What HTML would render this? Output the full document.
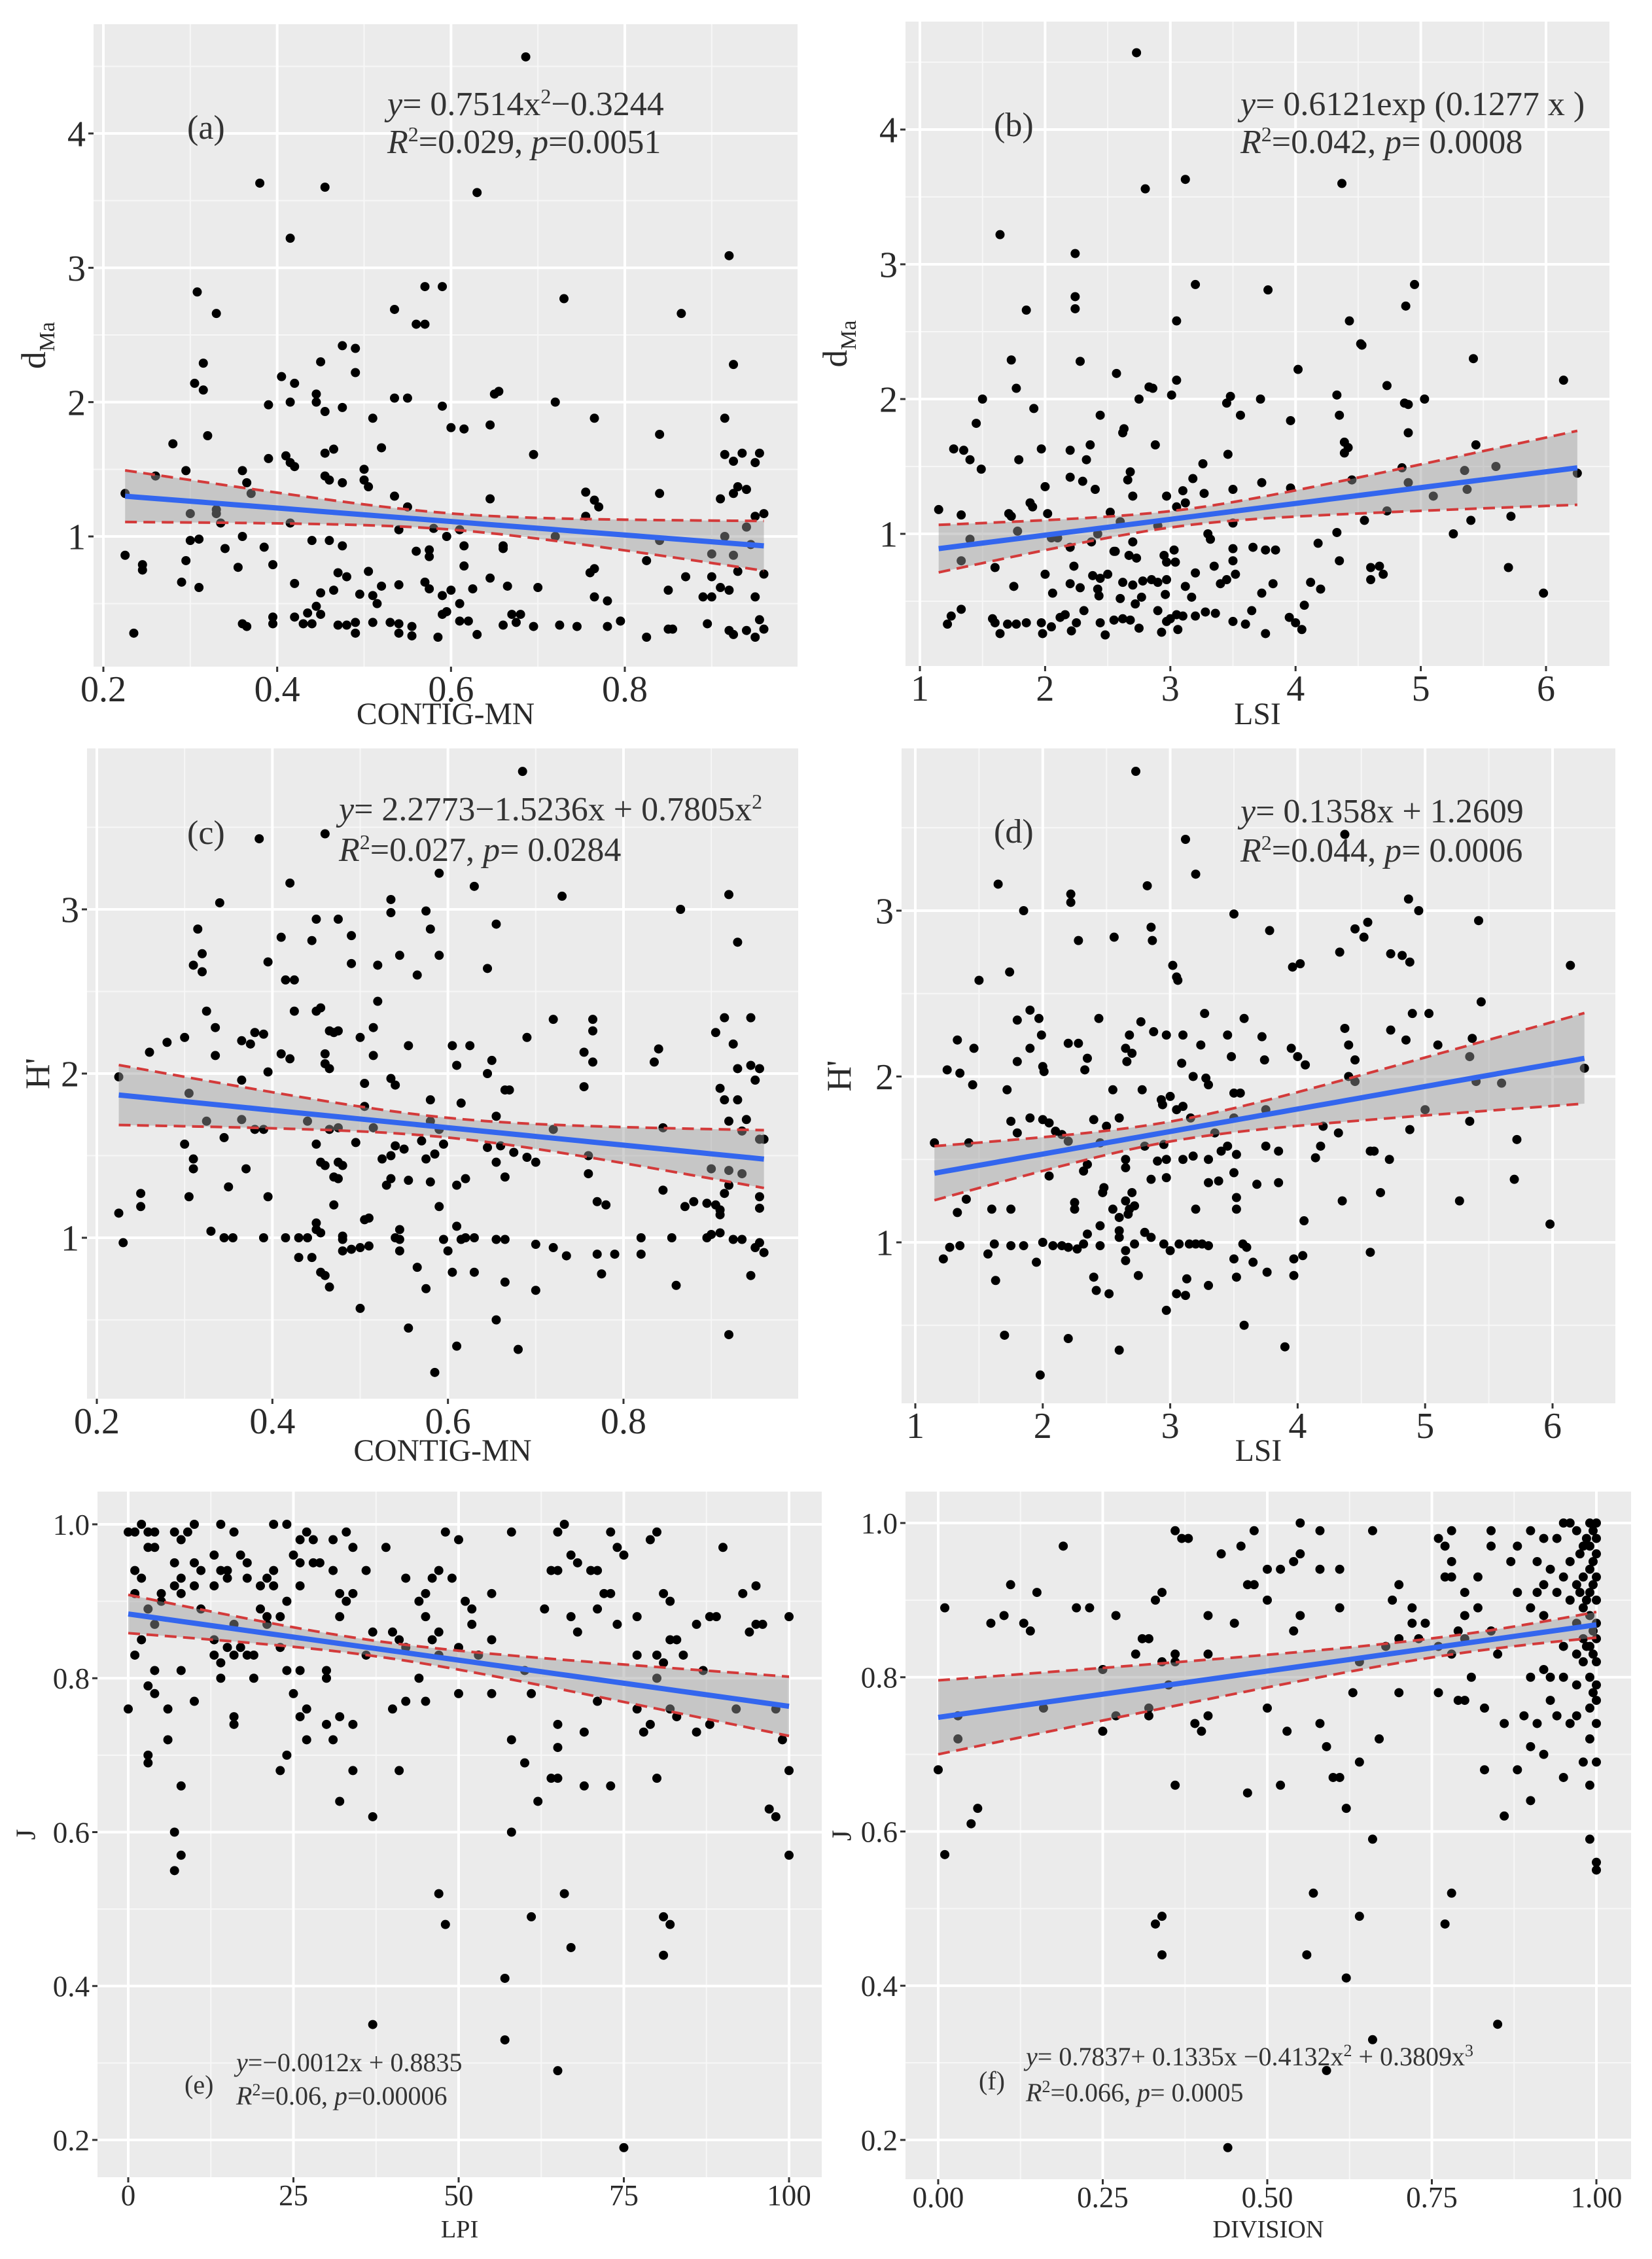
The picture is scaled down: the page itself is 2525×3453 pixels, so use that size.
<!DOCTYPE html>
<html><head><meta charset="utf-8"><style>
html,body{margin:0;padding:0;background:#fff}
svg{display:block}
svg text{font-family:"Liberation Serif","DejaVu Serif",serif}
</style></head><body>
<svg id="fig" xmlns="http://www.w3.org/2000/svg" width="2525" height="3453" viewBox="0 0 2525 3453" font-family="Liberation Serif, DejaVu Serif, serif"></svg>
<script>
// ===== Panel (a): CONTIG-MN vs dMa =====
const aX=[0.686,0.38,0.455,0.63,0.415,0.92,0.308,0.33,0.57,0.59,0.73,0.865,0.535,0.56,0.57,0.475,0.49,0.45,0.315,0.925,0.49,0.405,0.305,0.42,0.315,0.445,0.655,0.65,0.535,0.55,0.39,0.415,0.445,0.59,0.72,0.455,0.475,0.51,0.765,0.915,0.6,0.615,0.645,0.32,0.84,0.28,0.52,0.39,0.41,0.455,0.465,0.695,0.915,0.935,0.955,0.925,0.95,0.415,0.42,0.5,0.455,0.46,0.26,0.295,0.36,0.5,0.365,0.475,0.505,0.93,0.94,0.755,0.84,0.925,0.91,0.645,0.765,0.535,0.225,0.37,0.33,0.77,0.33,0.3,0.55,0.755,0.95,0.96,0.335,0.415,0.54,0.58,0.61,0.94,0.31,0.3,0.36,0.44,0.46,0.595,0.615,0.66,0.72,0.84,0.915,0.385,0.34,0.475,0.56,0.575,0.575,0.225,0.295,0.395,0.66,0.825,0.9,0.925,0.945,0.245,0.245,0.355,0.505,0.615,0.765,0.76,0.47,0.48,0.93,0.96,0.87,0.9,0.29,0.31,0.42,0.52,0.54,0.575,0.57,0.6,0.625,0.645,0.665,0.7,0.85,0.91,0.92,0.45,0.465,0.495,0.51,0.515,0.59,0.61,0.765,0.78,0.89,0.9,0.95,0.445,0.435,0.42,0.395,0.45,0.59,0.595,0.67,0.68,0.36,0.365,0.395,0.43,0.44,0.47,0.48,0.49,0.51,0.53,0.54,0.555,0.61,0.62,0.66,0.675,0.695,0.725,0.745,0.78,0.795,0.85,0.855,0.895,0.92,0.94,0.955,0.96,0.235,0.49,0.54,0.555,0.585,0.63,0.825,0.925,0.95];
const aY=[4.57,3.63,3.6,3.56,3.22,3.09,2.82,2.66,2.86,2.86,2.77,2.66,2.69,2.58,2.58,2.42,2.4,2.3,2.29,2.28,2.22,2.19,2.14,2.14,2.09,2.06,2.08,2.06,2.03,2.03,1.98,2.0,2.0,1.97,2.0,1.93,1.96,1.88,1.88,1.88,1.81,1.8,1.83,1.75,1.76,1.69,1.66,1.58,1.6,1.62,1.65,1.61,1.61,1.62,1.62,1.56,1.55,1.55,1.52,1.5,1.45,1.42,1.45,1.49,1.49,1.42,1.4,1.4,1.37,1.37,1.35,1.33,1.32,1.32,1.28,1.28,1.27,1.3,1.32,1.32,1.2,1.22,1.17,1.17,1.22,1.15,1.15,1.17,1.1,1.1,1.05,1.06,1.05,1.07,0.98,0.97,1.0,0.97,0.97,1.0,0.93,0.93,1.0,0.97,1.0,0.92,0.91,0.93,0.89,0.9,0.85,0.86,0.82,0.79,0.91,0.82,0.87,0.86,0.94,0.79,0.75,0.77,0.74,0.78,0.76,0.73,0.73,0.7,0.74,0.72,0.7,0.7,0.66,0.62,0.65,0.63,0.64,0.61,0.66,0.6,0.61,0.69,0.63,0.62,0.6,0.62,0.6,0.58,0.6,0.57,0.56,0.5,0.56,0.5,0.55,0.52,0.55,0.55,0.55,0.48,0.43,0.4,0.4,0.42,0.42,0.44,0.42,0.42,0.35,0.33,0.35,0.35,0.35,0.34,0.34,0.36,0.36,0.36,0.35,0.33,0.37,0.37,0.34,0.36,0.33,0.34,0.33,0.33,0.37,0.31,0.31,0.35,0.3,0.3,0.38,0.31,0.28,0.28,0.28,0.26,0.25,0.27,0.25,0.27,0.25];
const aFit=[1.413,-0.503,0.06,0.487,0.6];

// ===== Panel (b): LSI vs dMa =====
const bX=[2.73,3.12,2.8,4.37,1.64,2.24,2.24,2.24,3.2,3.78,4.95,4.88,1.85,3.05,4.43,4.52,4.53,1.73,2.28,5.42,2.57,3.05,4.02,6.14,1.77,2.83,2.86,3.01,4.73,1.5,2.75,3.48,3.72,4.33,5.03,4.87,4.9,3.45,1.91,2.44,3.56,4.35,3.96,1.45,2.63,2.62,4.9,4.39,4.42,4.39,1.27,1.35,1.97,2.2,2.36,2.88,5.44,1.4,1.79,2.33,3.46,1.49,2.68,3.26,5.6,4.85,5.35,2.2,2.66,2.3,3.18,3.73,4.45,4.9,2.0,2.4,2.7,2.97,3.1,3.5,3.96,5.1,5.37,3.27,1.88,1.9,2.02,1.15,1.71,1.73,1.33,2.52,3.05,3.12,2.6,2.9,3.5,4.55,4.73,5.4,5.72,6.25,1.78,2.05,2.1,2.37,2.42,3.3,3.32,4.33,5.26,1.4,2.2,2.55,2.56,2.7,2.95,3.03,3.5,3.66,3.76,3.84,4.18,1.33,2.67,2.73,2.23,2.97,3.04,3.35,3.5,4.35,4.6,4.67,5.7,1.6,2.0,2.38,2.44,2.5,2.62,2.7,2.78,2.85,2.9,2.97,3.12,3.2,3.4,3.45,3.52,3.82,4.12,4.6,4.7,1.75,2.2,2.28,2.42,2.43,2.06,2.6,2.72,2.77,2.96,3.17,3.73,4.2,5.98,1.25,1.33,1.22,1.58,1.6,1.7,1.77,1.85,1.97,2.05,2.12,2.16,2.25,2.31,2.44,2.55,2.62,2.68,2.75,2.9,2.97,3.0,3.05,3.1,3.2,3.28,3.36,3.5,3.6,3.65,3.95,4.0,4.05,4.07,1.64,1.98,2.21,2.48,2.93,3.06,3.76];
const bY=[4.57,3.63,3.56,3.6,3.22,3.08,2.76,2.67,2.85,2.81,2.85,2.69,2.66,2.58,2.58,2.41,2.4,2.29,2.28,2.3,2.19,2.14,2.22,2.14,2.08,2.09,2.08,2.03,2.1,2.0,2.0,2.02,2.0,2.03,2.0,1.97,1.96,1.97,1.93,1.88,1.88,1.88,1.84,1.82,1.78,1.75,1.75,1.68,1.64,1.6,1.63,1.62,1.63,1.62,1.66,1.66,1.66,1.55,1.55,1.55,1.59,1.48,1.46,1.52,1.5,1.49,1.47,1.42,1.4,1.39,1.41,1.38,1.4,1.38,1.35,1.33,1.28,1.28,1.32,1.33,1.34,1.28,1.33,1.3,1.23,1.2,1.15,1.18,1.15,1.13,1.14,1.16,1.2,1.23,1.09,1.06,1.08,1.1,1.17,1.1,1.13,1.45,1.02,0.97,0.97,0.94,1.0,1.0,0.96,1.01,1.0,0.96,0.9,0.87,0.87,0.94,0.84,0.88,0.89,0.9,0.88,0.88,0.93,0.8,0.84,0.82,0.76,0.79,0.79,0.76,0.8,0.8,0.75,0.76,0.75,0.75,0.7,0.69,0.67,0.7,0.64,0.62,0.65,0.66,0.64,0.66,0.61,0.71,0.63,0.66,0.7,0.63,0.64,0.66,0.7,0.61,0.63,0.6,0.59,0.54,0.56,0.52,0.48,0.53,0.55,0.53,0.56,0.59,0.56,0.39,0.44,0.33,0.37,0.34,0.33,0.33,0.34,0.34,0.31,0.38,0.4,0.34,0.43,0.34,0.36,0.37,0.36,0.3,0.43,0.35,0.37,0.4,0.39,0.39,0.42,0.41,0.35,0.33,0.43,0.38,0.34,0.29,0.47,0.26,0.26,0.28,0.25,0.27,0.29,0.26];
const bFit=[0.755,0.1176,0.06,0.085,3.1];

// ===== Panel (c): CONTIG-MN vs H' =====
const cX=[0.685,0.385,0.46,0.59,0.42,0.63,0.34,0.535,0.73,0.92,0.865,0.535,0.575,0.45,0.475,0.315,0.58,0.655,0.41,0.445,0.49,0.93,0.32,0.545,0.59,0.395,0.49,0.52,0.31,0.32,0.645,0.565,0.415,0.425,0.52,0.325,0.425,0.45,0.455,0.915,0.945,0.72,0.765,0.515,0.335,0.465,0.47,0.475,0.38,0.39,0.765,0.905,0.3,0.28,0.365,0.375,0.5,0.69,0.555,0.605,0.625,0.925,0.26,0.335,0.41,0.42,0.46,0.46,0.515,0.755,0.84,0.835,0.765,0.65,0.61,0.945,0.955,0.93,0.395,0.465,0.645,0.225,0.365,0.535,0.54,0.505,0.665,0.67,0.755,0.91,0.95,0.915,0.93,0.58,0.615,0.305,0.505,0.44,0.325,0.365,0.38,0.39,0.465,0.475,0.515,0.58,0.59,0.655,0.72,0.845,0.92,0.94,0.935,0.3,0.345,0.45,0.495,0.525,0.535,0.54,0.55,0.57,0.575,0.585,0.595,0.645,0.66,0.675,0.69,0.7,0.76,0.955,0.96,0.31,0.31,0.37,0.455,0.46,0.475,0.48,0.655,0.76,0.92,0.935,0.9,0.47,0.475,0.53,0.535,0.555,0.58,0.61,0.62,0.665,0.35,0.92,0.915,0.845,0.25,0.25,0.305,0.395,0.47,0.59,0.77,0.78,0.88,0.895,0.905,0.87,0.91,0.91,0.955,0.955,0.225,0.51,0.505,0.45,0.45,0.545,0.61,0.23,0.33,0.345,0.355,0.39,0.415,0.43,0.44,0.455,0.48,0.48,0.54,0.545,0.595,0.615,0.62,0.63,0.655,0.665,0.7,0.72,0.735,0.77,0.79,0.82,0.82,0.855,0.895,0.9,0.91,0.925,0.935,0.95,0.96,0.955,0.43,0.445,0.48,0.49,0.5,0.51,0.545,0.455,0.46,0.465,0.565,0.6,0.605,0.63,0.665,0.7,0.775,0.86,0.945,0.5,0.555,0.575,0.655,0.61,0.68,0.92,0.585];
const cY=[3.84,3.43,3.46,3.22,3.16,3.14,3.04,3.06,3.08,3.09,3.0,2.98,2.99,2.94,2.94,2.88,2.88,2.91,2.83,2.81,2.84,2.8,2.73,2.72,2.72,2.68,2.67,2.66,2.66,2.62,2.64,2.6,2.57,2.57,2.44,2.38,2.38,2.38,2.4,2.34,2.34,2.33,2.33,2.28,2.28,2.26,2.25,2.26,2.25,2.24,2.26,2.25,2.22,2.19,2.2,2.18,2.22,2.22,2.17,2.17,2.17,2.18,2.13,2.11,2.12,2.09,2.12,2.06,2.11,2.13,2.15,2.07,2.07,2.08,2.05,2.05,2.03,2.03,2.01,2.03,2.0,1.98,1.96,1.97,1.93,1.94,1.9,1.9,1.92,1.91,1.96,1.84,1.84,1.84,1.82,1.88,1.8,1.71,1.71,1.72,1.66,1.66,1.66,1.67,1.67,1.71,1.66,1.74,1.66,1.67,1.71,1.72,1.65,1.57,1.61,1.57,1.58,1.48,1.5,1.56,1.54,1.59,1.48,1.51,1.57,1.55,1.56,1.52,1.49,1.46,1.5,1.6,1.6,1.48,1.42,1.42,1.46,1.44,1.46,1.44,1.46,1.39,1.41,1.39,1.42,1.37,1.36,1.32,1.36,1.35,1.34,1.32,1.36,1.37,1.31,1.32,1.27,1.29,1.27,1.19,1.25,1.25,1.2,1.19,1.22,1.2,1.22,1.21,1.2,1.19,1.17,1.14,1.25,1.18,1.15,1.12,1.11,1.09,1.05,1.05,1.07,0.97,1.04,1.0,1.0,1.0,1.0,1.0,1.0,1.03,1.01,0.99,1.0,0.99,0.99,0.99,1.0,1.0,0.99,0.99,0.96,0.94,0.89,0.9,0.9,1.0,0.9,1.0,1.0,1.02,1.03,0.99,0.99,0.94,0.91,0.97,0.88,0.88,0.92,0.93,0.94,0.95,0.92,0.79,0.77,0.7,0.82,0.92,0.79,0.79,0.73,0.68,0.78,0.71,0.77,0.57,0.45,0.69,0.5,0.34,0.32,0.41,0.18];
const cFit=[1.989,-0.531,0.06,0.46,0.6];

// ===== Panel (d): LSI vs H' =====
const dX=[2.73,3.12,4.37,3.2,1.65,2.82,2.22,2.22,1.85,3.5,4.87,4.95,5.42,2.85,3.78,4.45,4.52,4.55,2.56,2.28,2.86,4.33,4.73,4.82,4.88,3.02,3.05,3.06,3.96,4.02,6.14,1.74,1.5,5.44,1.9,1.97,1.8,2.44,2.77,3.27,3.58,4.9,5.03,4.37,4.73,2.68,2.87,2.97,3.1,3.45,3.72,1.33,1.99,2.2,2.28,2.65,2.7,3.24,3.95,4.4,4.85,5.1,5.37,1.46,1.9,2.35,3.48,3.74,4.0,5.35,1.8,2.0,2.01,2.66,3.09,4.06,4.45,1.25,1.35,2.33,3.18,3.28,3.3,4.4,4.45,1.45,2.55,1.72,2.78,3.5,3.55,5.4,5.6,6.25,2.93,2.94,3.0,3.05,3.1,3.75,5.0,1.75,1.9,2.0,2.05,2.4,2.6,3.16,3.5,4.2,4.88,5.35,1.8,2.1,2.15,2.5,3.35,4.32,1.15,1.42,2.2,2.45,2.8,2.95,3.45,3.75,4.18,4.57,4.6,5.72,2.65,2.9,2.97,3.1,3.18,3.3,3.4,3.52,3.85,4.14,4.72,2.32,2.35,2.65,3.5,2.05,2.85,2.97,3.3,3.38,3.68,3.85,5.7,2.47,2.48,2.65,2.7,4.65,1.4,2.25,2.25,2.55,2.68,2.72,3.2,3.52,3.52,4.35,5.27,1.33,1.6,1.75,2.6,2.67,2.45,2.6,4.05,5.98,2.35,2.6,2.8,2.85,1.22,1.27,1.35,1.57,1.62,1.75,1.85,2.0,2.08,2.15,2.2,2.27,2.32,2.45,2.65,2.72,2.95,3.0,3.07,3.15,3.2,3.25,3.3,3.5,3.57,3.6,3.65,3.97,4.04,4.57,1.95,2.65,2.75,2.4,3.13,3.3,3.52,3.76,3.97,1.63,2.42,2.52,3.05,3.12,2.97,1.7,2.2,2.6,3.58,3.9,1.98];
const dY=[3.84,3.43,3.46,3.22,3.16,3.15,3.1,3.05,3.0,2.98,3.07,3.0,2.94,2.9,2.88,2.89,2.84,2.93,2.84,2.82,2.82,2.75,2.74,2.73,2.69,2.67,2.6,2.58,2.66,2.68,2.67,2.63,2.58,2.45,2.4,2.35,2.34,2.35,2.33,2.38,2.35,2.38,2.38,2.29,2.28,2.25,2.27,2.25,2.25,2.25,2.24,2.22,2.25,2.2,2.2,2.17,2.14,2.19,2.17,2.19,2.22,2.19,2.23,2.17,2.17,2.11,2.12,2.1,2.12,2.12,2.09,2.06,2.03,2.09,2.08,2.07,2.1,2.04,2.02,2.04,2.0,1.99,1.95,2.0,1.97,1.95,1.92,1.92,1.92,1.9,1.9,1.97,1.96,2.05,1.86,1.83,1.88,1.8,1.82,1.8,1.8,1.73,1.75,1.74,1.72,1.74,1.75,1.75,1.75,1.7,1.68,1.73,1.66,1.67,1.65,1.7,1.66,1.66,1.6,1.6,1.61,1.6,1.58,1.59,1.58,1.58,1.58,1.55,1.55,1.62,1.5,1.49,1.5,1.5,1.52,1.5,1.55,1.53,1.55,1.51,1.5,1.43,1.47,1.45,1.42,1.4,1.38,1.39,1.36,1.37,1.35,1.36,1.38,1.3,1.33,1.25,1.3,1.3,1.26,1.24,1.2,1.2,1.2,1.22,1.2,1.2,1.27,1.25,1.25,1.18,1.2,1.2,1.15,1.17,1.1,1.07,1.13,1.11,1.05,1.03,1.06,1.03,0.9,0.97,0.98,0.93,0.99,0.98,0.98,1.0,0.98,0.98,0.97,0.96,0.99,0.98,0.95,0.99,0.99,0.95,0.99,0.99,0.99,0.99,0.98,0.9,0.99,0.97,0.88,0.9,0.92,0.94,0.88,0.89,0.8,0.79,0.78,0.74,0.79,0.82,0.8,0.77,0.71,0.69,0.69,0.68,0.59,0.44,0.42,0.35,0.5,0.37,0.2];
const dFit=[1.2609,0.1358,0.06,0.082,3.0];

// ===== Panel (e): LPI vs J =====
const eX=[0,1,2,3,4,7,8,9,10,14,16,22,24,26,27,28,31,33,34,39,48,50,58,65,66,73,74,79,80,1,2,3,4,7,8,10,11,13,14,15,17,18,21,22,25,26,28,29,31,36,42,46,47,49,64,65,67,68,70,71,75,90,1,5,7,8,10,13,15,18,20,22,24,26,32,33,34,44,45,51,52,55,63,72,73,81,82,93,95,3,5,11,20,21,23,32,45,52,67,68,71,74,77,86,88,89,94,95,96,100,2,4,13,15,16,17,18,21,23,37,40,41,42,46,47,50,53,55,82,83,84,1,4,8,13,14,16,19,24,26,30,36,44,47,60,77,80,81,87,3,4,14,19,30,50,55,61,80,0,6,10,16,16,25,26,27,30,32,34,40,42,45,65,71,77,78,79,82,83,86,88,92,98,6,27,31,58,65,69,99,3,3,24,23,34,41,60,64,65,100,8,69,73,80,32,62,97,37,98,7,58,8,7,100,47,66,48,61,81,82,67,81,57,37,57,65,75];
const eY=[0.99,0.99,1.0,0.99,0.99,0.99,0.98,0.99,1.0,1.0,0.99,1.0,1.0,0.98,0.99,0.98,0.98,0.99,0.97,0.97,0.99,0.98,0.99,0.99,1.0,0.99,0.97,0.98,0.99,0.94,0.93,0.97,0.97,0.95,0.93,0.95,0.94,0.96,0.94,0.94,0.96,0.95,0.93,0.94,0.96,0.95,0.95,0.95,0.94,0.94,0.93,0.93,0.94,0.93,0.94,0.94,0.96,0.95,0.94,0.94,0.96,0.97,0.91,0.9,0.92,0.91,0.92,0.92,0.93,0.93,0.92,0.92,0.9,0.92,0.91,0.9,0.91,0.9,0.91,0.9,0.89,0.91,0.89,0.91,0.91,0.91,0.9,0.91,0.92,0.89,0.91,0.89,0.89,0.88,0.88,0.88,0.88,0.87,0.88,0.86,0.89,0.87,0.88,0.87,0.88,0.88,0.86,0.87,0.87,0.88,0.85,0.87,0.85,0.84,0.87,0.84,0.83,0.87,0.84,0.86,0.86,0.85,0.84,0.85,0.86,0.84,0.83,0.85,0.85,0.85,0.83,0.83,0.81,0.81,0.83,0.82,0.83,0.83,0.81,0.81,0.81,0.83,0.8,0.83,0.81,0.83,0.83,0.82,0.81,0.79,0.78,0.8,0.8,0.8,0.78,0.78,0.78,0.8,0.76,0.76,0.77,0.75,0.74,0.78,0.75,0.76,0.74,0.75,0.74,0.76,0.77,0.77,0.74,0.77,0.76,0.73,0.74,0.76,0.75,0.73,0.74,0.76,0.76,0.72,0.72,0.72,0.72,0.71,0.73,0.72,0.69,0.7,0.7,0.68,0.68,0.68,0.69,0.67,0.67,0.68,0.66,0.66,0.66,0.67,0.64,0.64,0.63,0.62,0.62,0.6,0.6,0.57,0.55,0.57,0.52,0.52,0.48,0.49,0.49,0.48,0.45,0.44,0.41,0.35,0.33,0.29,0.19];
const eFit=[0.8835,-0.0012,0.01,0.0006,38];

// ===== Panel (f): DIVISION vs J =====
const fX=[0.0,0.01,0.01,0.03,0.03,0.05,0.06,0.08,0.1,0.11,0.13,0.14,0.15,0.16,0.19,0.21,0.23,0.25,0.25,0.27,0.27,0.3,0.31,0.32,0.32,0.32,0.33,0.34,0.34,0.33,0.34,0.34,0.35,0.36,0.36,0.36,0.36,0.37,0.38,0.39,0.4,0.41,0.41,0.41,0.43,0.44,0.45,0.46,0.47,0.47,0.48,0.48,0.5,0.5,0.5,0.52,0.52,0.53,0.54,0.54,0.55,0.55,0.55,0.56,0.57,0.58,0.58,0.58,0.59,0.59,0.6,0.61,0.61,0.61,0.62,0.62,0.63,0.64,0.64,0.64,0.66,0.66,0.66,0.67,0.68,0.69,0.7,0.7,0.7,0.72,0.72,0.73,0.74,0.76,0.76,0.76,0.77,0.77,0.78,0.78,0.78,0.78,0.77,0.78,0.79,0.79,0.8,0.8,0.8,0.8,0.81,0.82,0.82,0.83,0.83,0.84,0.84,0.84,0.85,0.86,0.86,0.85,0.87,0.88,0.88,0.88,0.89,0.9,0.9,0.9,0.9,0.9,0.91,0.91,0.91,0.92,0.92,0.92,0.92,0.92,0.93,0.93,0.93,0.94,0.94,0.94,0.95,0.95,0.95,0.95,0.95,0.96,0.96,0.96,0.96,0.97,0.97,0.97,0.97,0.97,0.97,0.98,0.98,0.98,0.98,0.98,0.98,0.99,0.99,0.99,0.99,0.99,0.99,0.99,0.99,0.99,0.99,0.99,1.0,1.0,1.0,1.0,1.0,1.0,1.0,1.0,1.0,1.0,1.0,1.0,1.0,1.0,0.995,0.995,0.995,0.995,0.995,0.995,0.985,0.985,0.985,0.975,0.975];
const fY=[0.68,0.89,0.57,0.75,0.72,0.61,0.63,0.87,0.88,0.92,0.87,0.86,0.91,0.76,0.97,0.89,0.89,0.81,0.73,0.75,0.88,0.83,0.85,0.85,0.76,0.75,0.9,0.91,0.82,0.48,0.49,0.44,0.79,0.99,0.83,0.82,0.66,0.98,0.98,0.74,0.73,0.88,0.83,0.75,0.96,0.19,0.87,0.97,0.65,0.92,0.92,0.99,0.9,0.94,0.76,0.94,0.66,0.73,0.95,0.86,0.96,1.0,0.88,0.44,0.52,0.74,0.99,0.94,0.71,0.29,0.67,0.94,0.89,0.67,0.63,0.41,0.78,0.49,0.82,0.69,0.99,0.59,0.33,0.72,0.84,0.9,0.78,0.85,0.92,0.89,0.87,0.85,0.87,0.98,0.78,0.84,0.97,0.93,0.99,0.95,0.93,0.83,0.48,0.52,0.77,0.86,0.77,0.91,0.88,0.85,0.8,0.93,0.89,0.76,0.68,0.99,0.97,0.86,0.83,0.74,0.62,0.35,0.95,0.97,0.91,0.68,0.75,0.99,0.64,0.71,0.89,0.8,0.95,0.91,0.74,0.98,0.92,0.88,0.81,0.7,0.94,0.8,0.77,0.98,0.91,0.75,1.0,0.93,0.84,0.8,0.67,1.0,0.95,0.9,0.74,0.99,0.92,0.87,0.83,0.79,0.75,0.97,0.93,0.89,0.85,0.82,0.69,1.0,0.97,0.94,0.91,0.88,0.84,0.8,0.76,0.72,0.66,0.59,1.0,0.98,0.96,0.93,0.9,0.87,0.85,0.82,0.79,0.77,0.74,0.69,0.56,0.55,0.99,0.95,0.92,0.86,0.83,0.78,0.98,0.9,0.84,0.96,0.91];
const fFit=[0.748,0.12,0.012,0.058,0.8];

// ---- tick label arrays ----
const contigTicks=[0.2,0.4,0.6,0.8];
const contigLabels=["0.2","0.4","0.6","0.8"];
const lsiTicks=[1,2,3,4,5,6];
const lsiLabels=["1","2","3","4","5","6"];
const dmaTicks=[1,2,3,4];
const dmaLabels=["1","2","3","4"];
const hTicks=[1,2,3];
const hLabels=["1","2","3"];
const lpiTicks=[0,25,50,75,100];
const lpiLabels=["0","25","50","75","100"];
const divTicks=[0,0.25,0.5,0.75,1];
const divLabels=["0.00","0.25","0.50","0.75","1.00"];
const jTicks=[0.2,0.4,0.6,0.8,1.0];
const jLabels=["0.2","0.4","0.6","0.8","1.0"];

const NS="http://www.w3.org/2000/svg";
const svg=document.getElementById('fig');
const FONT='"Liberation Serif", "DejaVu Serif", serif';
function mk(tag,attrs,parent){const e=document.createElementNS(NS,tag);for(const k in attrs)e.setAttribute(k,attrs[k]);if(tag==='text')e.setAttribute('font-family',FONT);(parent||svg).appendChild(e);return e;}

const panels=[
 {id:'a',frame:[143,37,1219,1019],xr:[0.2,158,0.8,955],yr:[4,204,1,820],X:aX,Y:aY,fit:aFit,xt:contigTicks,xl:contigLabels,yt:dmaTicks,yl:dmaLabels,xstep:0.2,ystep:1,fs:56,xtitle:'CONTIG-MN',xtY:1107,ytitle:'dMa',ytX:52,tag:'(a)',tagP:[286,212],eq:['<tspan font-style="italic">y</tspan>= 0.7514x<tspan font-size="32" dy="-18">2</tspan><tspan dy="18">−0.3244</tspan>','<tspan font-style="italic">R</tspan><tspan font-size="32" dy="-18">2</tspan><tspan dy="18">=0.029, </tspan><tspan font-style="italic">p</tspan>=0.0051'],eqP:[592,176,234],efs:52},
 {id:'b',frame:[1384,33,2460,1018],xr:[1,1406,6,2363],yr:[4,198,1,816],X:bX,Y:bY,fit:bFit,xt:lsiTicks,xl:lsiLabels,yt:dmaTicks,yl:dmaLabels,xstep:1,ystep:1,fs:56,xtitle:'LSI',xtY:1107,ytitle:'dMa',ytX:1277,tag:'(b)',tagP:[1519,208],eq:['<tspan font-style="italic">y</tspan>= 0.6121exp (0.1277 x )','<tspan font-style="italic">R</tspan><tspan font-size="32" dy="-18">2</tspan><tspan dy="18">=0.042, </tspan><tspan font-style="italic">p</tspan>= 0.0008'],eqP:[1896,176,234],efs:52},
 {id:'c',frame:[133,1144,1220,2138],xr:[0.2,148,0.8,953],yr:[3,1390,1,1892],X:cX,Y:cY,fit:cFit,xt:contigTicks,xl:contigLabels,yt:hTicks,yl:hLabels,xstep:0.2,ystep:1,fs:56,xtitle:'CONTIG-MN',xtY:2233,ytitle:"H'",ytX:58,tag:'(c)',tagP:[286,1290],eq:['<tspan font-style="italic">y</tspan>= 2.2773−1.5236x + 0.7805x<tspan font-size="32" dy="-18">2</tspan>','<tspan font-style="italic">R</tspan><tspan font-size="32" dy="-18">2</tspan><tspan dy="18">=0.027, </tspan><tspan font-style="italic">p</tspan>= 0.0284'],eqP:[518,1254,1316],efs:52},
 {id:'d',frame:[1378,1144,2469,2145],xr:[1,1399,6,2373],yr:[3,1392,1,1899],X:dX,Y:dY,fit:dFit,xt:lsiTicks,xl:lsiLabels,yt:hTicks,yl:hLabels,xstep:1,ystep:1,fs:56,xtitle:'LSI',xtY:2233,ytitle:"H'",ytX:1283,tag:'(d)',tagP:[1519,1288],eq:['<tspan font-style="italic">y</tspan>= 0.1358x + 1.2609','<tspan font-style="italic">R</tspan><tspan font-size="32" dy="-18">2</tspan><tspan dy="18">=0.044, </tspan><tspan font-style="italic">p</tspan>= 0.0006'],eqP:[1896,1257,1317],efs:52},
 {id:'e',frame:[149,2280,1256,3328],xr:[0,196,100,1206],yr:[1,2330,0.2,3271],X:eX,Y:eY,fit:eFit,xt:lpiTicks,xl:lpiLabels,yt:jTicks,yl:jLabels,xstep:25,ystep:0.2,fs:45,xtitle:'LPI',xtY:3420,ytitle:'J',ytX:40,tag:'(e)',tagP:[282,3200],eq:['<tspan font-style="italic">y</tspan>=−0.0012x + 0.8835','<tspan font-style="italic">R</tspan><tspan font-size="26" dy="-14">2</tspan><tspan dy="14">=0.06, </tspan><tspan font-style="italic">p</tspan>=0.00006'],eqP:[361,3166,3217],efs:40},
 {id:'f',frame:[1384,2280,2493,3331],xr:[0,1434,1,2440],yr:[1,2328,0.2,3271],X:fX,Y:fY,fit:fFit,xt:divTicks,xl:divLabels,yt:jTicks,yl:jLabels,xstep:0.25,ystep:0.2,fs:45,xtitle:'DIVISION',xtY:3420,ytitle:'J',ytX:1287,tag:'(f)',tagP:[1496,3194],eq:['<tspan font-style="italic">y</tspan>= 0.7837+ 0.1335x −0.4132x<tspan font-size="26" dy="-14">2</tspan><tspan dy="14"> + 0.3809x</tspan><tspan font-size="26" dy="-14">3</tspan>','<tspan font-style="italic">R</tspan><tspan font-size="26" dy="-14">2</tspan><tspan dy="14">=0.066, </tspan><tspan font-style="italic">p</tspan>= 0.0005'],eqP:[1568,3157,3212],efs:40}
];

panels.forEach(P=>{
  const [L,T,R,B]=P.frame;
  const sx=v=>P.xr[1]+(v-P.xr[0])/(P.xr[2]-P.xr[0])*(P.xr[3]-P.xr[1]);
  const sy=v=>P.yr[1]+(v-P.yr[0])/(P.yr[2]-P.yr[0])*(P.yr[3]-P.yr[1]);
  const g=mk('g',{});
  
  
  const bg=mk('rect',{x:L,y:T,width:R-L,height:B-T,fill:'#ebebeb'},g);
  
  
  for(let k=-3;k<20;k++){
    const vx=P.xt[0]+(k-0.5)*P.xstep, px=sx(vx);
    if(px>L+2&&px<R-2){const l=mk('line',{x1:px,x2:px,y1:T,y2:B,stroke:'#f7f7f7','stroke-width':2},g);}
    const vy=P.yt[0]+(k-0.5)*P.ystep, py=sy(vy);
    if(py>T+2&&py<B-2){const l=mk('line',{x1:L,x2:R,y1:py,y2:py,stroke:'#f7f7f7','stroke-width':2},g);}
  }
  P.xt.forEach((v,i)=>{const px=sx(v);
    const l=mk('line',{x1:px,x2:px,y1:T,y2:B,stroke:'#fff','stroke-width':4},g);
    
    const tk=mk('line',{x1:px,x2:px,y1:B,y2:B+8,stroke:'#333','stroke-width':3},g);
    
    const t=mk('text',{x:px,y:B+P.fs*0.95,'font-size':P.fs,'text-anchor':'middle',fill:'#2a2a2a'},g);
    t.textContent=P.xl[i];});
  P.yt.forEach((v,i)=>{const py=sy(v);
    const l=mk('line',{x1:L,x2:R,y1:py,y2:py,stroke:'#fff','stroke-width':4},g);
    
    const tk=mk('line',{x1:L-8,x2:L,y1:py,y2:py,stroke:'#333','stroke-width':3},g);
    
    const t=mk('text',{x:L-12,y:py+P.fs*0.35,'font-size':P.fs,'text-anchor':'end',fill:'#2a2a2a'},g);
    t.textContent=P.yl[i];});
  P.X.forEach((v,i)=>{const c=mk('circle',{cx:sx(v),cy:sy(P.Y[i]),r:7,fill:'#000'},g);
    });
  const xmin=Math.min(...P.X), xmax=Math.max(...P.X);
  const [a0,b0,s0,k,xm]=P.fit;
  const up=[],lo=[],mid=[];
  for(let i=0;i<=60;i++){const x=xmin+(xmax-xmin)*i/60;const y=a0+b0*x;const s=Math.sqrt(s0*s0+k*k*(x-xm)*(x-xm));
    up.push([sx(x),sy(y+s)]);lo.push([sx(x),sy(y-s)]);mid.push([sx(x),sy(y)]);}
  const poly=mk('polygon',{points:up.concat(lo.slice().reverse()).map(p=>p.join(',')).join(' '),fill:'#999','fill-opacity':0.45},g);
  
  const pl=a=>a.map(p=>p.join(',')).join(' ');
  const u=mk('polyline',{points:pl(up),fill:'none',stroke:'#d33a3a','stroke-width':4,'stroke-dasharray':'18,10'},g);
  
  const lw=mk('polyline',{points:pl(lo),fill:'none',stroke:'#d33a3a','stroke-width':4,'stroke-dasharray':'18,10'},g);
  
  const fl=mk('polyline',{points:pl(mid),fill:'none',stroke:'#3366ee','stroke-width':8},g);
  
  const xtitle=mk('text',{x:(L+R)/2,y:P.xtY,'font-size':P.fs*0.85,'text-anchor':'middle',fill:'#2a2a2a'},g);
  xtitle.textContent=P.xtitle;
  const cy=(T+B)/2;
  const yt=mk('text',{x:P.ytX,y:cy,'font-size':P.fs*0.95,'text-anchor':'middle',fill:'#2a2a2a',transform:`rotate(-90 ${P.ytX} ${cy})`,dy:P.fs*0.3},g);
  if(P.ytitle==='dMa'){yt.innerHTML='d<tspan font-size="'+Math.round(P.fs*0.6)+'" dy="14">Ma</tspan>';}else yt.textContent=P.ytitle;
  
  const tg=mk('text',{x:P.tagP[0],y:P.tagP[1],'font-size':P.efs,fill:'#333'},g);
  tg.textContent=P.tag;
  P.eq.forEach((s,i)=>{const t=mk('text',{x:P.eqP[0],y:P.eqP[1+i],'font-size':P.efs,fill:'#333'},g);
    t.innerHTML=s;});
});
</script>
</body></html>
